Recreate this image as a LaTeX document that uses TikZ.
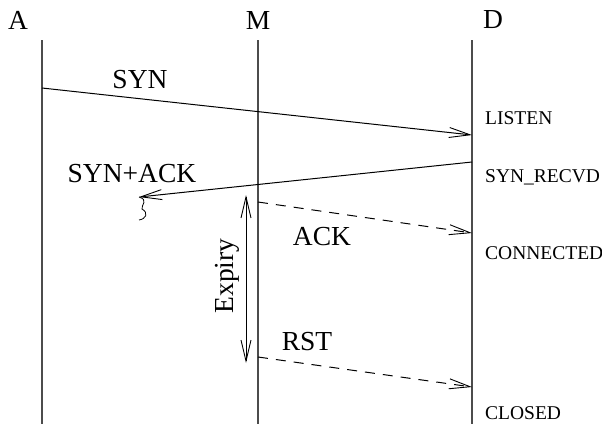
\documentclass[tikz,border=0pt]{standalone}
\usepackage{fontspec}
\setmainfont{Liberation Serif}
\usetikzlibrary{arrows.meta}
\begin{document}
\begin{tikzpicture}[x=1pt,y=-1pt,
  tipx/.tip={Straight Barb[length=21pt,width=10pt,line width=0.9pt]},
  life/.style={draw=black!70,line width=1.3pt},
  msg/.style={draw=black,line width=1pt,-tipx},
  dmsg/.style={msg,dash pattern=on 10pt off 8pt},
  big/.style={font=\fontsize{27.5}{31}\selectfont,inner sep=0pt},
  state/.style={font=\fontsize{19.5}{23}\selectfont,inner sep=0pt,anchor=west}]
\useasboundingbox (0,0) rectangle (602,424);
% lifeline heads
\node[big] (A) at (18,20) {A};
\node[big] (M) at (258,20) {M};
\node[big] (D) at (493,20) {D};
\coordinate (At) at (42,40);  \coordinate (Ab) at (42,424);
\coordinate (Mt) at (258,40); \coordinate (Mb) at (258,424);
\coordinate (Dt) at (472,40); \coordinate (Db) at (472,424);
\draw[life] (At) -- (Ab);
\draw[life] (Mt) -- (Mb);
\draw[life] (Dt) -- (Db);
% message points
\coordinate (syn1) at (42,88);   \coordinate (syn2) at (472,135);
\coordinate (sa1) at (472,162);  \coordinate (sa2) at (139,197);
\coordinate (ack1) at (258,202); \coordinate (ack2) at (472,233);
\coordinate (rst1) at (258,357); \coordinate (rst2) at (472,387);
\coordinate (ex1) at (246,195);  \coordinate (ex2) at (246,363);
\draw[msg] (syn1) -- (syn2);
\draw[msg] (sa1) -- (sa2);
\draw[dmsg] (ack1) -- (ack2);
\draw[dmsg] (rst1) -- (rst2);
\draw[line width=1pt,tipx-tipx] (ex1) -- (ex2);
% squiggle
\draw[line width=0.8pt] (sa2) .. controls (149,200) and (141,205) .. (142,209) .. controls (149,213) and (146,219) .. (139,220);
% labels
\node[big] (lsyn) at (140,80) {SYN};
\node[big] (lsa) at (132,174) {SYN+ACK};
\node[big] (lack) at (322,237) {ACK};
\node[big] (lrst) at (307,342) {RST};
\node[big,rotate=90] (lexp) at (227,276) {Expiry};
\node[state] (s1) at (485,118) {LISTEN};
\node[state] (s2) at (485,177) {SYN\_RECVD};
\node[state] (s3) at (485,253) {CONNECTED};
\node[state] (s4) at (485,413) {CLOSED};
\end{tikzpicture}
\end{document}
